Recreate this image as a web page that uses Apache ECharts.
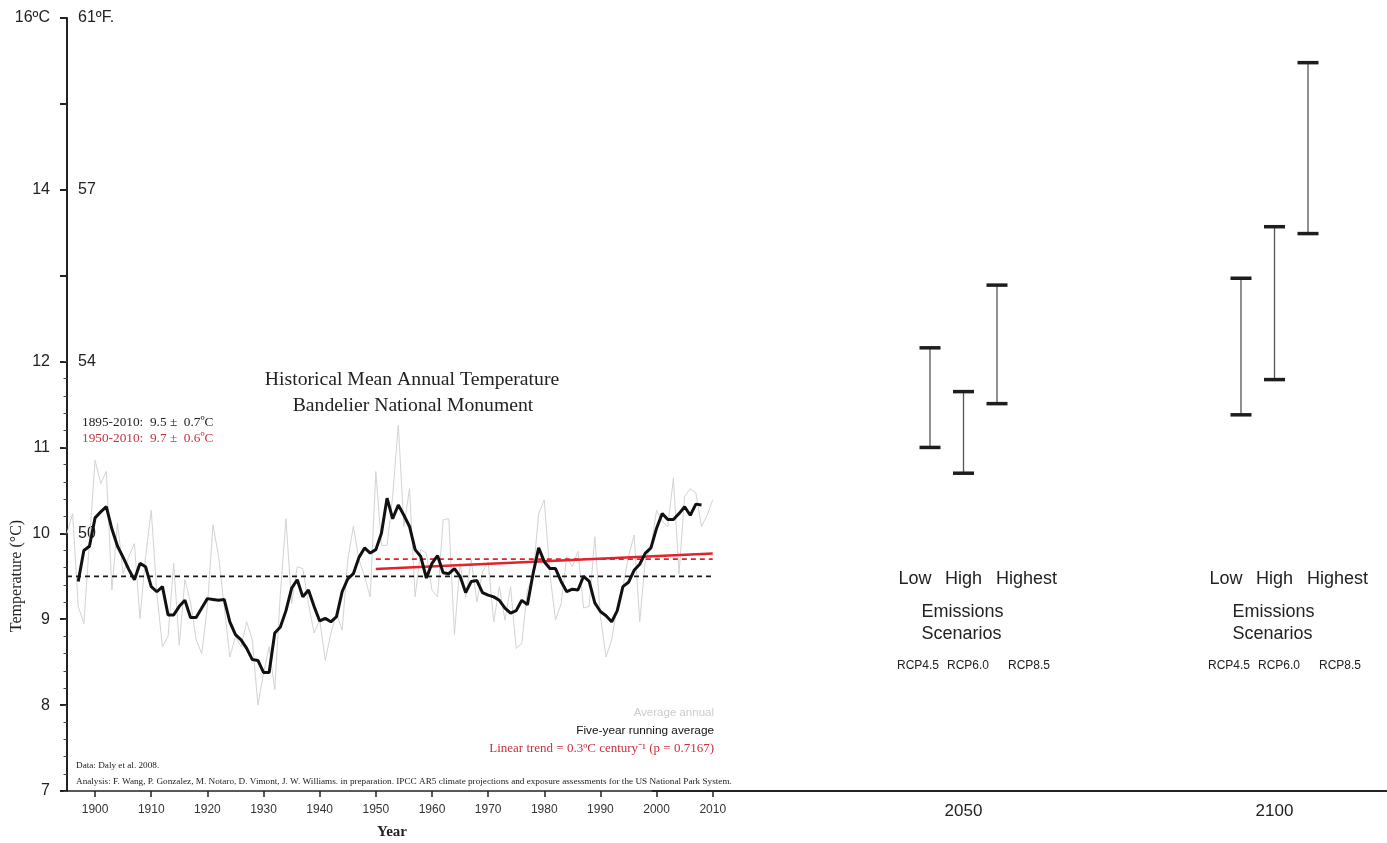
<!DOCTYPE html>
<html>
<head>
<meta charset="utf-8">
<title>Bandelier National Monument – Mean Annual Temperature</title>
<script src="https://cdn.jsdelivr.net/npm/echarts@6/dist/echarts.min.js"></script>
<style>
  html, body { margin: 0; padding: 0; background: #ffffff; }
  #chart { width: 1387px; height: 843px; }
</style>
</head>
<body>
<div id="chart"></div>
<script>
// ---- Historical record (°C), one value per year ----
const annualStart = 1895;
const annualTemp = [
  10.00, 10.23, 9.15, 8.95, 9.90,                                  // 1895-1899
  10.85, 10.58, 10.72, 9.34, 10.12, 9.53, 9.73, 9.88, 9.01, 9.73,   // 1900s
  10.27, 9.30, 8.68, 8.80, 9.65, 8.70, 9.46, 9.20, 8.76, 8.60,      // 1910s
  9.15, 10.10, 9.73, 9.15, 8.56, 8.80, 8.68, 8.97, 8.76, 8.00,      // 1920s
  8.37, 8.68, 8.18, 9.30, 10.17, 9.18, 9.61, 9.59, 9.18, 8.84,      // 1930s
  8.99, 8.52, 8.84, 9.07, 8.87, 9.69, 10.08, 9.69, 9.50, 9.26,      // 1940s
  10.72, 9.86, 9.86, 10.43, 11.26, 10.08, 10.52, 9.26, 9.81, 9.77,  // 1950s
  9.34, 9.26, 10.16, 10.17, 8.82, 9.65, 9.26, 9.69, 9.20, 9.55,     // 1960s
  9.67, 8.97, 9.38, 8.99, 9.38, 8.66, 8.72, 9.34, 9.50, 10.23,      // 1970s
  10.39, 9.53, 8.99, 9.18, 9.73, 9.61, 9.79, 9.13, 9.15, 9.96,      // 1980s
  9.03, 8.56, 8.76, 9.15, 9.38, 9.73, 9.98, 8.97, 9.69, 9.84,       // 1990s
  10.27, 10.14, 10.08, 10.64, 9.53, 10.43, 10.52, 10.47, 10.08, 10.21, // 2000s
  10.39                                                            // 2010
];

// Five-year running average, centred (1897-2008)
const runningStart = 1897;
const runningAvg = [
  9.44, 9.80, 9.85,                                                 // 1897-1899
  10.18, 10.25, 10.31, 10.05, 9.85, 9.72, 9.58, 9.46, 9.65, 9.61,   // 1900s
  9.38, 9.32, 9.38, 9.05, 9.05, 9.15, 9.22, 9.02, 9.02, 9.13,       // 1910s
  9.24, 9.23, 9.22, 9.23, 8.97, 8.82, 8.76, 8.66, 8.53, 8.52,       // 1920s
  8.38, 8.38, 8.84, 8.91, 9.10, 9.36, 9.46, 9.26, 9.34, 9.15,       // 1930s
  8.98, 9.01, 8.97, 9.03, 9.32, 9.47, 9.53, 9.72, 9.83, 9.77,       // 1940s
  9.81, 10.00, 10.41, 10.17, 10.33, 10.21, 10.08, 9.81, 9.73, 9.48, // 1950s
  9.65, 9.74, 9.54, 9.53, 9.59, 9.50, 9.31, 9.44, 9.45, 9.31,       // 1960s
  9.28, 9.26, 9.22, 9.13, 9.07, 9.10, 9.22, 9.17, 9.53, 9.83,       // 1970s
  9.67, 9.59, 9.59, 9.44, 9.32, 9.35, 9.34, 9.50, 9.44, 9.19,       // 1980s
  9.09, 9.04, 8.97, 9.10, 9.38, 9.43, 9.57, 9.64, 9.77, 9.83,       // 1990s
  10.06, 10.23, 10.16, 10.16, 10.23, 10.31, 10.21, 10.34, 10.33     // 2000-2008
];

// Period means: [first year, last year, mean °C]
const meanAll = [1895, 2010, 9.5];
const meanRecent = [1950, 2010, 9.7];
// Linear trend 1950-2010 (0.3 °C per century)
const trendYears = [1950, 2010];
const trendValues = [9.585, 9.765];

// ---- Projections ----
const periods = [2050, 2100];
const scenarioNames = ['Low', 'High', 'Highest'];
const scenarioCodes = ['RCP4.5', 'RCP6.0', 'RCP8.5'];
// ranges per period, one entry per scenario (°C)
const projLow2050 = [11.00, 10.70, 11.51];
const projHigh2050 = [12.16, 11.65, 12.89];
const projLow2100 = [11.38, 11.79, 13.49];
const projHigh2100 = [12.97, 13.57, 15.48];

// ---- Tick labels ----
const celsiusTicks = [16, 14, 12, 11, 10, 9, 8, 7];
const celsiusText = ['16ºC', '14', '12', '11', '10', '9', '8', '7'];
const fahrTicks = [16, 14, 12, 10];
const fahrText = ['61ºF.', '57', '54', '50'];
const yearTicks = [1900, 1910, 1920, 1930, 1940, 1950, 1960, 1970, 1980, 1990, 2000, 2010];

// ---------------------------------------------------------------
const SANS = '"Liberation Sans", Arial, Helvetica, sans-serif';
const SERIF = '"Liberation Serif", "Times New Roman", serif';
const INK = '#222222';
const RED = '#e1232b';
const RED_TEXT = '#c93140';

const annualData = annualTemp.map((v, i) => [annualStart + i, v]);
const runningData = runningAvg.map((v, i) => [runningStart + i, v]);

const projLow = [projLow2050, projLow2100];
const projHigh = [projHigh2050, projHigh2100];
const rangeData = [];
periods.forEach((p, pi) => {
  scenarioNames.forEach((_, si) => {
    rangeData.push([p, si, projLow[pi][si], projHigh[pi][si]]);
  });
});

// horizontal offsets (px) of the three scenarios around each period
const barOffsets = [-33.5, 0, 33.5];
const nameOffsets = [-48.5, 0, 63];
const codeOffsets = [-45.5, 4.5, 65.5];

function lookup(ticks, texts) {
  return function (v) {
    const i = ticks.findIndex(t => Math.abs(t - v) < 1e-6);
    return i < 0 ? '' : texts[i];
  };
}
const plainYear = v => String(Math.round(v));

const chart = echarts.init(document.getElementById('chart'), null, { renderer: 'canvas' });

const option = {
  animation: false,
  backgroundColor: '#ffffff',
  grid: [
    { left: 67, top: 18, width: 673.8, height: 773, containLabel: false, outerBoundsMode: 'none' },    // 1895-2015 record
    { left: 652.5, top: 18, width: 746.4, height: 773, containLabel: false, outerBoundsMode: 'none' }, // 2000-2120 projections
    { left: 67, top: 361.56, width: 10, height: 429.44, containLabel: false, outerBoundsMode: 'none' } // fine ticks 7-12 °C
  ],
  xAxis: [
    {
      gridIndex: 0, type: 'value', min: 1895, max: 2015,
      axisLine: { onZero: false, lineStyle: { color: INK, width: 1.5 } },
      axisTick: { customValues: yearTicks, length: 6, lineStyle: { color: INK, width: 1.5 } },
      axisLabel: { customValues: yearTicks, formatter: plainYear, margin: 13, fontSize: 12,
                   color: '#333', fontFamily: SANS },
      splitLine: { show: false }
    },
    {
      gridIndex: 1, type: 'value', min: 2000, max: 2120,
      axisLine: { onZero: false, lineStyle: { color: INK, width: 2 } },
      axisTick: { show: false },
      axisLabel: { customValues: periods, formatter: plainYear, margin: 12, fontSize: 17,
                   color: INK, fontFamily: SANS },
      splitLine: { show: false }
    },
    { gridIndex: 2, type: 'value', show: false }
  ],
  yAxis: [
    {
      gridIndex: 0, type: 'value', min: 7, max: 16, interval: 1,
      axisLine: { show: true, onZero: false, lineStyle: { color: INK, width: 2 } },
      axisTick: { show: true, length: 7, lineStyle: { color: INK, width: 2 } },
      axisLabel: { margin: 17, fontSize: 16, color: INK, fontFamily: SANS,
                   formatter: lookup(celsiusTicks, celsiusText) },
      splitLine: { show: false }
    },
    {
      gridIndex: 0, type: 'value', min: 7, max: 16, interval: 1, position: 'left',
      axisLine: { show: false }, axisTick: { show: false },
      axisLabel: { inside: true, margin: 11, fontSize: 16, color: INK, fontFamily: SANS,
                   formatter: lookup(fahrTicks, fahrText) },
      splitLine: { show: false }
    },
    { gridIndex: 1, type: 'value', min: 7, max: 16, show: false },
    {
      gridIndex: 2, type: 'value', min: 7, max: 12, interval: 0.2,
      axisLine: { show: false },
      axisTick: { show: true, length: 3.5, lineStyle: { color: '#444', width: 1 } },
      axisLabel: { show: false },
      splitLine: { show: false }
    }
  ],
  series: [
    {
      name: 'Average annual', type: 'line', xAxisIndex: 0, yAxisIndex: 0,
      data: annualData, showSymbol: false, silent: true, z: 1,
      lineStyle: { color: '#d3d3d3', width: 1 }
    },
    {
      name: 'Mean 1895-2010', type: 'line', xAxisIndex: 0, yAxisIndex: 0,
      data: [[meanAll[0], meanAll[2]], [meanAll[1], meanAll[2]]],
      showSymbol: false, silent: true, z: 2,
      lineStyle: { color: '#1a1a1a', width: 1.8, type: [5, 4] }
    },
    {
      name: 'Mean 1950-2010', type: 'line', xAxisIndex: 0, yAxisIndex: 0,
      data: [[meanRecent[0], meanRecent[2]], [meanRecent[1], meanRecent[2]]],
      showSymbol: false, silent: true, z: 2,
      lineStyle: { color: RED, width: 1.8, type: [5, 4] }
    },
    {
      name: 'Linear trend', type: 'line', xAxisIndex: 0, yAxisIndex: 0,
      data: trendYears.map((y, i) => [y, trendValues[i]]),
      showSymbol: false, silent: true, z: 3,
      lineStyle: { color: RED, width: 2.6 }
    },
    {
      name: 'Five-year running average', type: 'line', xAxisIndex: 0, yAxisIndex: 0,
      data: runningData, showSymbol: false, silent: true, z: 4,
      lineStyle: { color: '#111111', width: 3 }
    },
    {
      name: 'Projected range', type: 'custom', xAxisIndex: 1, yAxisIndex: 2,
      data: rangeData, silent: true, z: 5,
      encode: { x: 0, y: [2, 3] },
      renderItem: function (params, api) {
        const lo = api.coord([api.value(0), api.value(2)]);
        const hi = api.coord([api.value(0), api.value(3)]);
        const x = lo[0] + barOffsets[api.value(1)];
        return {
          type: 'group',
          children: [
            { type: 'line', shape: { x1: x, y1: lo[1], x2: x, y2: hi[1] },
              style: { stroke: '#555555', lineWidth: 1.3 } },
            { type: 'rect', shape: { x: x - 10.5, y: hi[1] - 1.75, width: 21, height: 3.5 },
              style: { fill: '#1e1e1e' } },
            { type: 'rect', shape: { x: x - 10.5, y: lo[1] - 1.75, width: 21, height: 3.5 },
              style: { fill: '#1e1e1e' } }
          ]
        };
      }
    },
    {
      name: 'Scenario labels', type: 'custom', xAxisIndex: 1, yAxisIndex: 2,
      data: periods.map(p => [p, 7]), silent: true, z: 5,
      renderItem: function (params, api) {
        const base = api.coord([api.value(0), api.value(1)]);
        const cx = base[0], by = base[1];
        const children = [];
        scenarioNames.forEach((n, i) => {
          children.push({ type: 'text', x: cx + nameOffsets[i], y: by - 212,
            style: { text: n, fill: INK, font: '18px ' + SANS, textAlign: 'center', textVerticalAlign: 'middle' } });
        });
        children.push({ type: 'text', x: cx - 42, y: by - 179,
          style: { text: 'Emissions', fill: INK, font: '18px ' + SANS, textAlign: 'left', textVerticalAlign: 'middle' } });
        children.push({ type: 'text', x: cx - 42, y: by - 157,
          style: { text: 'Scenarios', fill: INK, font: '18px ' + SANS, textAlign: 'left', textVerticalAlign: 'middle' } });
        scenarioCodes.forEach((c, i) => {
          children.push({ type: 'text', x: cx + codeOffsets[i], y: by - 125,
            style: { text: c, fill: INK, font: '12px ' + SANS, textAlign: 'center', textVerticalAlign: 'middle' } });
        });
        return { type: 'group', children: children };
      }
    }
  ],
  graphic: [
    { type: 'text', x: 412, y: 380, z: 10, silent: true,
      style: { text: 'Historical Mean Annual Temperature', fill: INK, font: '19.7px ' + SERIF,
               textAlign: 'center', textVerticalAlign: 'middle' } },
    { type: 'text', x: 413, y: 406, z: 10, silent: true,
      style: { text: 'Bandelier National Monument', fill: INK, font: '19.7px ' + SERIF,
               textAlign: 'center', textVerticalAlign: 'middle' } },
    { type: 'text', x: 82, y: 423, z: 10, silent: true,
      style: { text: '1895-2010:  9.5 ±  0.7ºC', fill: INK, font: '13.3px ' + SERIF,
               textAlign: 'left', textVerticalAlign: 'middle' } },
    { type: 'text', x: 82, y: 439, z: 10, silent: true,
      style: { text: '1950-2010:  9.7 ±  0.6ºC', fill: RED_TEXT, font: '13.3px ' + SERIF,
               textAlign: 'left', textVerticalAlign: 'middle' } },
    { type: 'text', x: 714, y: 713, z: 10, silent: true,
      style: { text: 'Average annual', fill: '#cccccc', font: '11.5px ' + SANS,
               textAlign: 'right', textVerticalAlign: 'middle' } },
    { type: 'text', x: 714, y: 731, z: 10, silent: true,
      style: { text: 'Five-year running average', fill: '#111111', font: '11.8px ' + SANS,
               textAlign: 'right', textVerticalAlign: 'middle' } },
    { type: 'text', x: 714, y: 749, z: 10, silent: true,
      style: { text: 'Linear trend = 0.3ºC century⁻¹ (p = 0.7167)', fill: RED_TEXT, font: '13px ' + SERIF,
               textAlign: 'right', textVerticalAlign: 'middle' } },
    { type: 'text', x: 76, y: 766, z: 10, silent: true,
      style: { text: 'Data: Daly et al. 2008.', fill: INK, font: '9.2px ' + SERIF,
               textAlign: 'left', textVerticalAlign: 'middle' } },
    { type: 'text', x: 76, y: 782, z: 10, silent: true,
      style: { text: 'Analysis: F. Wang, P. Gonzalez, M. Notaro, D. Vimont, J. W. Williams. in preparation. IPCC AR5 climate projections and exposure assessments for the US National Park System.',
               fill: INK, font: '9.2px ' + SERIF, textAlign: 'left', textVerticalAlign: 'middle' } },
    { type: 'text', x: 392, y: 832, z: 10, silent: true,
      style: { text: 'Year', fill: INK, font: 'bold 15px ' + SERIF,
               textAlign: 'center', textVerticalAlign: 'middle' } },
    { type: 'text', x: 17, y: 576, rotation: Math.PI / 2, z: 10, silent: true,
      style: { text: 'Temperature (°C)', fill: INK, font: '16px ' + SERIF,
               textAlign: 'center', textVerticalAlign: 'middle' } }
  ]
};

chart.setOption(option);
</script>
</body>
</html>
